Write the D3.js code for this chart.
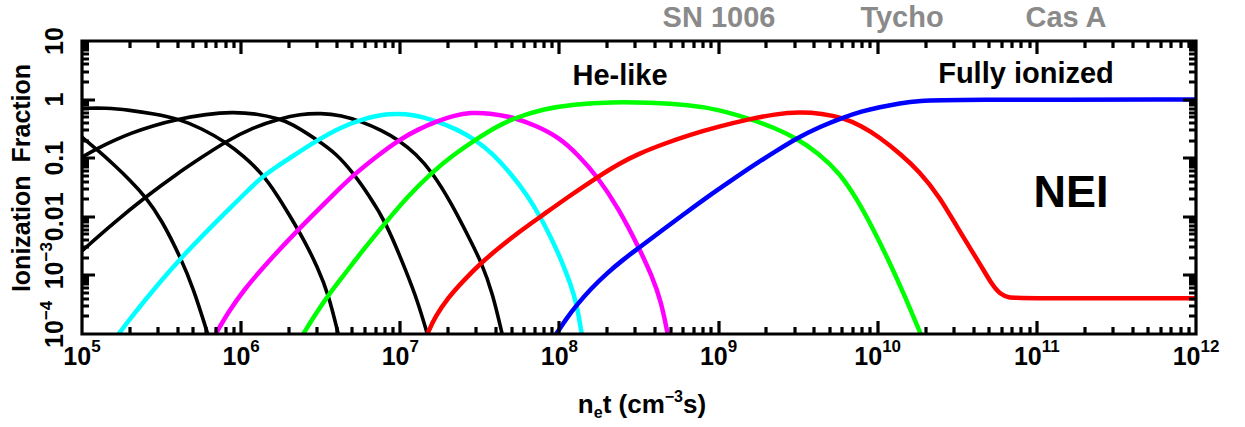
<!DOCTYPE html>
<html>
<head>
<meta charset="utf-8">
<script src="https://cdn.jsdelivr.net/npm/d3@7"></script>
<style>
  body { margin: 0; background: #fff; }
  text { font-family: "Liberation Sans", Arial, Helvetica, sans-serif; font-weight: bold; }
</style>
</head>
<body>
<svg></svg>
<script>
// curves as [log10(n_e t), log10(fraction)]
const black1 = [[5.0,-0.64],[5.11,-0.89],[5.2,-1.11],[5.3,-1.37],[5.40,-1.66],[5.5,-2.05],[5.62,-2.70],[5.7,-3.22],[5.79,-4.0]];
const black2 = [[5.0,-0.15],[5.15,-0.14],[5.3,-0.18],[5.45,-0.24],[5.61,-0.33],[5.75,-0.49],[5.90,-0.72],[6.02,-0.97],[6.13,-1.26],[6.22,-1.6],[6.31,-2.0],[6.40,-2.42],[6.48,-2.86],[6.55,-3.33],[6.61,-4.0]];
const black3 = [[5.0,-0.98],[5.1,-0.83],[5.2,-0.70],[5.3,-0.58],[5.45,-0.44],[5.61,-0.33],[5.78,-0.25],[5.94,-0.21],[6.1,-0.24],[6.24,-0.33],[6.31,-0.40],[6.48,-0.69],[6.6,-0.93],[6.70,-1.24],[6.8,-1.62],[6.91,-2.09],[7.04,-2.95],[7.11,-3.45],[7.17,-4.0]];
const black4 = [[5.0,-2.58],[5.2,-2.1],[5.40,-1.66],[5.6,-1.26],[5.75,-0.99],[5.90,-0.72],[6.08,-0.47],[6.24,-0.33],[6.37,-0.25],[6.50,-0.23],[6.63,-0.27],[6.76,-0.38],[6.88,-0.52],[6.99,-0.69],[7.1,-0.93],[7.20,-1.24],[7.32,-1.76],[7.44,-2.40],[7.51,-2.78],[7.58,-3.3],[7.64,-4.0]];
const cyan = [[5.23,-4.0],[5.3,-3.75],[5.4,-3.41],[5.5,-3.08],[5.62,-2.71],[5.75,-2.34],[5.9,-1.93],[6.02,-1.61],[6.13,-1.32],[6.22,-1.15],[6.31,-0.99],[6.48,-0.69],[6.62,-0.48],[6.75,-0.34],[6.93,-0.23],[7.08,-0.25],[7.23,-0.37],[7.35,-0.5],[7.47,-0.68],[7.58,-0.92],[7.69,-1.25],[7.79,-1.6],[7.88,-2.0],[7.95,-2.37],[8.02,-2.79],[8.07,-3.15],[8.11,-3.5],[8.14,-4.0]];
const magenta = [[5.84,-4.0],[5.92,-3.62],[6.02,-3.24],[6.13,-2.89],[6.22,-2.62],[6.31,-2.36],[6.45,-1.97],[6.58,-1.62],[6.70,-1.30],[6.85,-0.97],[6.99,-0.69],[7.11,-0.51],[7.23,-0.37],[7.34,-0.27],[7.44,-0.22],[7.56,-0.23],[7.71,-0.30],[7.86,-0.45],[8.0,-0.65],[8.12,-0.95],[8.24,-1.32],[8.37,-1.85],[8.50,-2.53],[8.58,-3.0],[8.64,-3.45],[8.68,-4.0]];
const green = [[6.39,-4.0],[6.47,-3.65],[6.55,-3.33],[6.65,-2.98],[6.75,-2.62],[6.91,-2.09],[7.05,-1.64],[7.20,-1.24],[7.33,-0.95],[7.47,-0.69],[7.6,-0.47],[7.71,-0.32],[7.9,-0.16],[8.08,-0.08],[8.34,-0.04],[8.55,-0.05],[8.82,-0.09],[9.0,-0.17],[9.20,-0.33],[9.35,-0.48],[9.49,-0.66],[9.63,-0.92],[9.76,-1.25],[9.87,-1.7],[9.97,-2.2],[10.07,-2.75],[10.17,-3.35],[10.27,-4.0]];
const red = [[7.17,-4.0],[7.22,-3.7],[7.3,-3.38],[7.4,-3.08],[7.51,-2.78],[7.62,-2.53],[7.75,-2.25],[7.88,-2.0],[8.06,-1.65],[8.24,-1.32],[8.37,-1.1],[8.5,-0.92],[8.66,-0.75],[8.82,-0.6],[9.0,-0.46],[9.20,-0.33],[9.35,-0.25],[9.51,-0.21],[9.65,-0.24],[9.78,-0.31],[9.9,-0.45],[10.01,-0.64],[10.14,-0.92],[10.26,-1.22],[10.39,-1.66],[10.51,-2.23],[10.64,-2.79],[10.72,-3.17],[10.77,-3.32],[10.82,-3.38],[10.9,-3.39],[12.0,-3.39]];
const blue = [[7.98,-4.0],[8.04,-3.75],[8.11,-3.5],[8.2,-3.22],[8.3,-2.96],[8.4,-2.73],[8.50,-2.53],[8.65,-2.22],[8.79,-1.94],[8.93,-1.66],[9.08,-1.38],[9.22,-1.12],[9.36,-0.88],[9.49,-0.66],[9.64,-0.46],[9.78,-0.31],[9.9,-0.2],[10.01,-0.13],[10.14,-0.06],[10.26,-0.02],[10.45,0],[12.0,0]];

const xExponents = [5, 6, 7, 8, 9, 10, 11, 12];
const yTickLabels = [
  {v: 10,   base: "10"},
  {v: 1,    base: "1"},
  {v: 0.1,  base: "0.1"},
  {v: 0.01, base: "0.01"},
  {v: 1e-3, base: "10", sup: "\u22123"},
  {v: 1e-4, base: "10", sup: "\u22124"}
];
const remnants = ["SN 1006", "Tycho", "Cas A"];
const remnantX = [719, 902, 1066];

const W = 1245, H = 427;
const pLeft = 82, pRight = 1196, pTop = 41, pBottom = 334;

const svg = d3.select("svg")
    .attr("width", W)
    .attr("height", H);

const x = d3.scaleLog().domain([1e5, 1e12]).range([pLeft, pRight]);
const y = d3.scaleLog().domain([1e-4, 10]).range([pBottom, pTop]);

svg.append("clipPath").attr("id", "plot")
  .append("rect")
    .attr("x", pLeft).attr("y", pTop)
    .attr("width", pRight - pLeft).attr("height", pBottom - pTop);

// curves
const curve = d3.line()
    .x(d => x(10 ** d[0]))
    .y(d => y(10 ** d[1]))
    .curve(d3.curveBasis);

const series = [
  {data: black1, color: "#000", w: 3.6},
  {data: black2, color: "#000", w: 3.6},
  {data: black3, color: "#000", w: 3.6},
  {data: black4, color: "#000", w: 3.6},
  {data: cyan, color: "#00ffff", w: 4.5},
  {data: magenta, color: "#ff00ff", w: 4.5},
  {data: green, color: "#00ff00", w: 4.5},
  {data: red, color: "#ff0000", w: 4.5},
  {data: blue, color: "#0000ff", w: 4.5}
];

svg.append("g")
    .attr("clip-path", "url(#plot)")
  .selectAll("path")
  .data(series)
  .enter().append("path")
    .attr("d", d => curve(d.data))
    .attr("fill", "none")
    .attr("stroke", d => d.color)
    .attr("stroke-width", d => d.w)
    .attr("stroke-linejoin", "round");

// frame and inward ticks on all four sides, one path
const xMajor = xExponents.map(e => 10 ** e);
const xMinor = [];
d3.range(5, 12).forEach(e => d3.range(2, 10).forEach(k => xMinor.push(k * 10 ** e)));
const yMajor = d3.range(-4, 2).map(e => 10 ** e);
const yMinor = [];
d3.range(-4, 1).forEach(e => d3.range(2, 10).forEach(k => yMinor.push(k * 10 ** e)));

const fp = d3.path();
fp.rect(pLeft, pTop, pRight - pLeft, pBottom - pTop);
[[xMajor, 13], [xMinor, 7]].forEach(([vals, len]) => vals.forEach(v => {
  const px = Math.round(x(v));
  fp.moveTo(px, pBottom); fp.lineTo(px, pBottom - len);
  fp.moveTo(px, pTop); fp.lineTo(px, pTop + len);
}));
[[yMajor, 13], [yMinor, 7]].forEach(([vals, len]) => vals.forEach(v => {
  const py = Math.round(y(v));
  fp.moveTo(pLeft, py); fp.lineTo(pLeft + len, py);
  fp.moveTo(pRight, py); fp.lineTo(pRight - len, py);
}));
svg.append("path")
    .attr("d", fp.toString())
    .attr("fill", "none")
    .attr("stroke", "#000")
    .attr("stroke-width", 3.2);

// x tick labels
const xl = svg.append("g").selectAll("text")
    .data(xExponents)
    .enter().append("text")
    .attr("x", d => x(10 ** d))
    .attr("y", 365)
    .attr("text-anchor", "middle")
    .attr("font-size", 25);
xl.append("tspan").text("10");
xl.append("tspan").attr("dy", -13).attr("font-size", 17).text(d => d);

// y tick labels
const yl = svg.append("g").selectAll("text")
    .data(yTickLabels)
    .enter().append("text")
    .attr("transform", d => `translate(63,${y(d.v)}) rotate(-90)`)
    .attr("x", d => d.sup ? -13.9 : 0)
    .attr("text-anchor", d => d.sup ? "start" : "middle")
    .attr("font-size", 25);
yl.append("tspan").text(d => d.base);
yl.filter(d => d.sup).append("tspan").attr("dy", -11).attr("font-size", 17).text(d => d.sup);

// axis titles
const xt = svg.append("text")
    .attr("x", 642)
    .attr("y", 413)
    .attr("text-anchor", "middle")
    .attr("font-size", 26);
xt.append("tspan").text("n");
xt.append("tspan").attr("dy", 5).attr("font-size", 16).text("e");
xt.append("tspan").attr("dy", -5).text("t (cm");
xt.append("tspan").attr("dy", -11).attr("font-size", 16).text("\u22123");
xt.append("tspan").attr("dy", 11).text("s)");

svg.append("text")
    .attr("transform", "translate(30,178) rotate(-90)")
    .attr("text-anchor", "middle")
    .attr("font-size", 25)
    .attr("word-spacing", 6)
    .text("Ionization Fraction");

// annotations
svg.append("g").selectAll("text")
    .data(remnants)
    .enter().append("text")
    .attr("x", (d, i) => remnantX[i])
    .attr("y", 27)
    .attr("text-anchor", "middle")
    .attr("font-size", 29)
    .attr("fill", "#8a8a8a")
    .text(d => d);

svg.append("text")
    .attr("x", 620).attr("y", 85)
    .attr("text-anchor", "middle")
    .attr("font-size", 29)
    .text("He-like");

svg.append("text")
    .attr("x", 1026).attr("y", 83)
    .attr("text-anchor", "middle")
    .attr("font-size", 29)
    .text("Fully ionized");

svg.append("text")
    .attr("x", 1071).attr("y", 207)
    .attr("text-anchor", "middle")
    .attr("font-size", 45)
    .text("NEI");
</script>
</body>
</html>
